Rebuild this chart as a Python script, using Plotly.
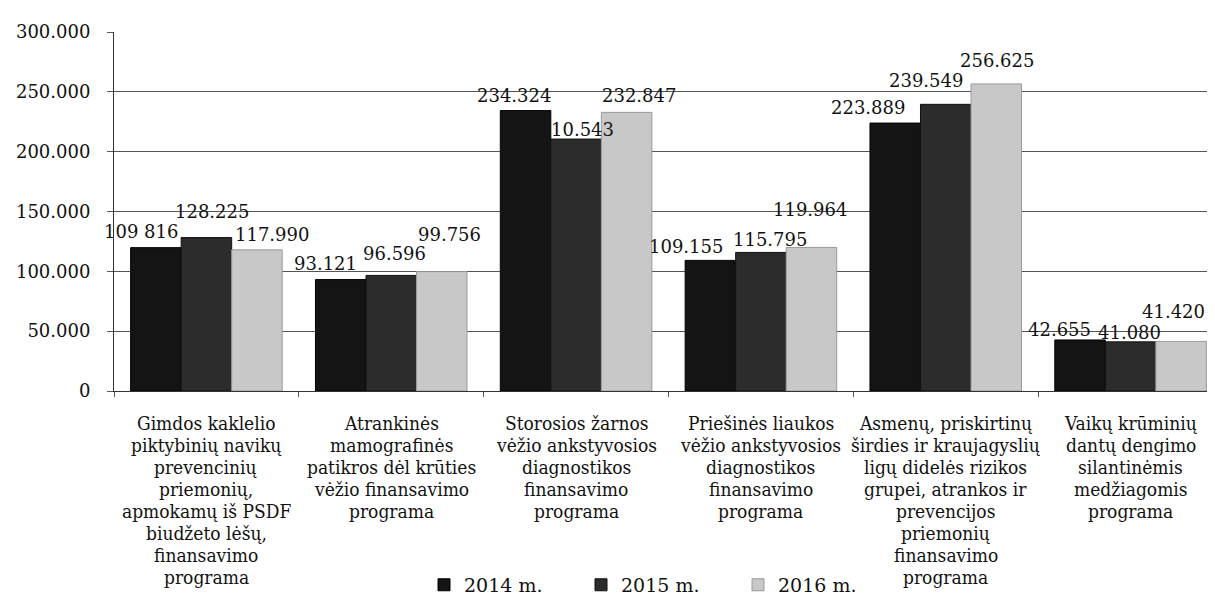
import plotly.graph_objects as go

categories = [
    "Gimdos kaklelio<br>piktybinių navikų<br>prevencinių<br>priemonių,<br>apmokamų iš PSDF<br>biudžeto lėšų,<br>finansavimo<br>programa",
    "Atrankinės<br>mamografinės<br>patikros dėl krūties<br>vėžio finansavimo<br>programa",
    "Storosios žarnos<br>vėžio ankstyvosios<br>diagnostikos<br>finansavimo<br>programa",
    "Priešinės liaukos<br>vėžio ankstyvosios<br>diagnostikos<br>finansavimo<br>programa",
    "Asmenų, priskirtinų<br>širdies ir kraujagyslių<br>ligų didelės rizikos<br>grupei, atrankos ir<br>prevencijos<br>priemonių<br>finansavimo<br>programa",
    "Vaikų krūminių<br>dantų dengimo<br>silantinėmis<br>medžiagomis<br>programa",
]
cat_keys = ["c1", "c2", "c3", "c4", "c5", "c6"]

series_names = ["2014 m.", "2015 m.", "2016 m."]
values_2014 = [119800, 93121, 234324, 109155, 223889, 42655]
values_2015 = [128225, 96596, 210543, 115795, 239549, 41080]
values_2016 = [117990, 99756, 232847, 119964, 256625, 41420]
labels_2014 = ["109 816", "93.121", "234.324", "109.155", "223.889", "42.655"]
labels_2015 = ["128.225", "96.596", "10.543", "115.795", "239.549", "41.080"]
labels_2016 = ["117.990", "99.756", "232.847", "119.964", "256.625", "41.420"]

y_tick_vals = [0, 50000, 100000, 150000, 200000, 250000, 300000]
y_tick_text = ["0", "50.000", "100.000", "150.000", "200.000", "250.000", "300.000"]

# --- styling ---
F_SERIF = "DejaVu Serif, serif"
F_COND = "DejaVu Serif Condensed, DejaVu Serif, serif"
colors = ["#141414", "#2c2c2c", "#c8c8c8"]
line_colors = ["#000000", "#111111", "#9a9a9a"]
BARGAP = 0.18
label_dx = [
    [-15, -15, -12, -24, -27, -21],
    [6, 3, 6, 9, -20, -1],
    [15, 8, 12, -1, 1, -8],
]
label_dy = [
    [16, 16, 15, 14, 16, 10],
    [26, 22, 10, 13, 24, 9],
    [15, 37, 17, 38, 23, 30],
]

fig = go.Figure()
all_vals = [values_2014, values_2015, values_2016]
all_labs = [labels_2014, labels_2015, labels_2016]
for name, vals, col, lc in zip(series_names, all_vals, colors, line_colors):
    fig.add_trace(go.Bar(
        x=cat_keys, y=vals, name=name,
        marker=dict(color=col, line=dict(color=lc, width=1)),
    ))

bw = (1 - BARGAP) / len(series_names)
for s, (vals, labs) in enumerate(zip(all_vals, all_labs)):
    for i, (v, t) in enumerate(zip(vals, labs)):
        fig.add_annotation(
            x=i + (s - 1) * bw, y=v, xref="x", yref="y", text=t,
            showarrow=False, xanchor="center", yanchor="middle",
            xshift=label_dx[s][i], yshift=label_dy[s][i],
            font=dict(family=F_SERIF, size=18, color="#111"),
        )

for i, label in enumerate(categories):
    for j, line in enumerate(label.split("<br>")):
        fig.add_annotation(
            x=i, y=0, xref="x", yref="y", text=line, showarrow=False,
            yanchor="middle", xanchor="center", yshift=-(32 + 22 * j),
            font=dict(family=F_COND, size=19, color="#111"),
        )

fig.update_layout(
    width=1215, height=596,
    margin=dict(l=106, r=0, t=24, b=211),
    paper_bgcolor="white", plot_bgcolor="white",
    barmode="group", bargap=BARGAP, bargroupgap=0,
    font=dict(family=F_SERIF, color="#111"),
    showlegend=True,
    legend=dict(
        orientation="h", x=(416 - 106) / 1109, xanchor="left",
        y=(385 - 580) / 361, yanchor="middle",
        font=dict(family=F_SERIF, size=19, color="#111"),
        itemwidth=30, traceorder="normal",
        entrywidth=112, entrywidthmode="pixels",
    ),
)
fig.update_xaxes(
    type="category", showticklabels=False, showline=True, linecolor="#333", linewidth=1,
    ticks="outside", tickson="boundaries", ticklen=5, tickcolor="#555",
    showgrid=False, range=[-0.5, 5.5],
)
fig.update_yaxes(
    range=[0, 300000], tickvals=y_tick_vals, ticktext=y_tick_text,
    showline=True, linecolor="#333", linewidth=1,
    showgrid=True, gridcolor="#555555", gridwidth=1,
    ticks="outside", ticklen=6, tickcolor="#555", ticklabelstandoff=13,
    tickfont=dict(family=F_SERIF, size=18, color="#111"),
    zeroline=False,
)

fig.write_html("out.html")
